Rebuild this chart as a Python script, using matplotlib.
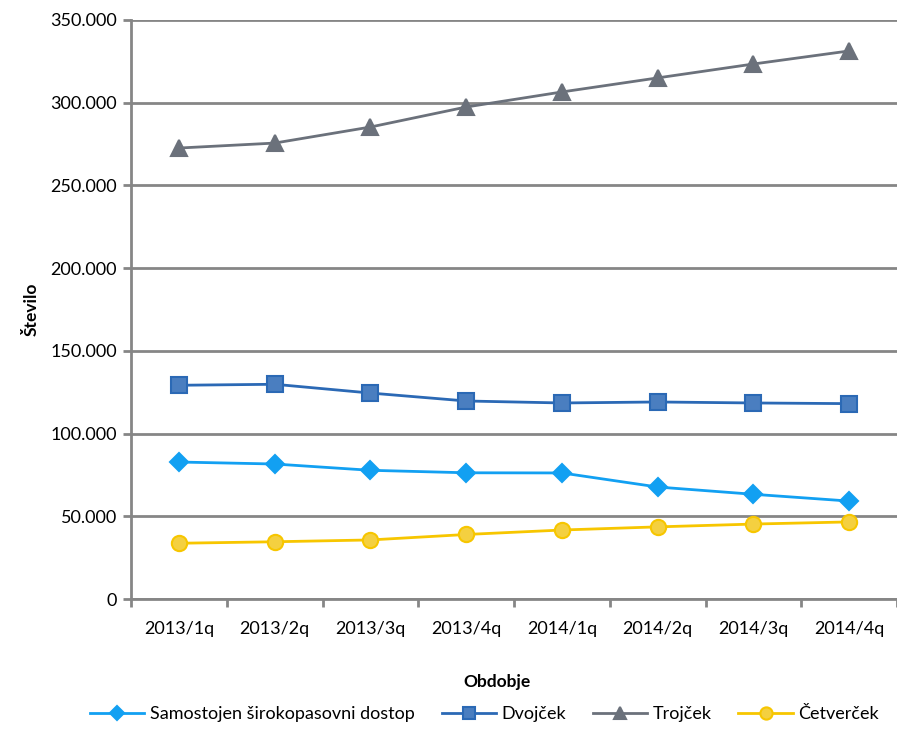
import matplotlib.pyplot as plt
from matplotlib.ticker import FuncFormatter, FixedLocator

plt.rcParams['font.family'] = ['Lato', 'DejaVu Sans']

# Podatki
obdobja = ["2013/1q", "2013/2q", "2013/3q", "2013/4q",
           "2014/1q", "2014/2q", "2014/3q", "2014/4q"]
samostojen = [82800, 81600, 77800, 76300, 76200, 67700, 63300, 59200]
dvojcek = [129200, 129800, 124500, 119700, 118500, 119100, 118500, 118100]
trojcek = [272600, 275600, 285300, 297400, 306500, 315000, 323400, 331300]
cetvercek = [33700, 34600, 35700, 39000, 41700, 43600, 45300, 46600]

serije = [
    ("Samostojen širokopasovni dostop", samostojen, "#12A0F2", "#12A0F2", "D", 9),
    ("Dvojček", dvojcek, "#2B69B5", "#4A7EC0", "s", 11),
    ("Trojček", trojcek, "#6B717B", "#6B717B", "^", 11),
    ("Četverček", cetvercek, "#F7C600", "#F4D040", "o", 11),
]

fig = plt.figure(figsize=(8.97, 7.36), dpi=100)
ax = fig.add_axes([131 / 897, 137 / 736, 766 / 897, 579 / 736])

x = list(range(len(obdobja)))
for ime, vrednosti, barva, polnilo, marker, ms in serije:
    ax.plot(x, vrednosti, color=barva, linewidth=2, marker=marker,
            markersize=ms, markerfacecolor=polnilo, markeredgecolor=barva,
            markeredgewidth=1.5, label=ime, zorder=3)

ax.set_xlim(-0.5, len(obdobja) - 0.5)
ax.set_ylim(0, 350000)
ax.set_yticks(range(0, 350001, 50000))
ax.yaxis.set_major_formatter(FuncFormatter(lambda v, p: f"{int(v):,}".replace(",", ".")))
ax.set_xticks(x)
ax.set_xticklabels(obdobja)
ax.xaxis.set_minor_locator(FixedLocator([i - 0.5 for i in range(len(obdobja) + 1)]))
ax.tick_params(axis='x', which='major', length=0, pad=16, labelsize=13)
ax.tick_params(axis='x', which='minor', length=6, width=2, color="#868686")
ax.tick_params(axis='y', length=6, width=2, color="#868686", labelsize=13, pad=4)

ax.grid(axis='y', color="#868686", linewidth=2)
ax.set_axisbelow(True)
for s in ["top", "right"]:
    ax.spines[s].set_visible(False)
for s in ["left", "bottom"]:
    ax.spines[s].set_color("#868686")
    ax.spines[s].set_linewidth(2)

ax.set_xlabel("Obdobje", fontweight="bold", fontsize=12.5, labelpad=28)
ax.xaxis.set_label_coords(0.478, -0.13)
ax.set_ylabel("Število", fontweight="bold", fontsize=12.5, labelpad=8)

fig.legend(loc="lower center", bbox_to_anchor=(0.54, -0.003), ncol=4, frameon=False,
           fontsize=13, handlelength=3, columnspacing=1.5, handletextpad=0.3,
           markerscale=0.8)

fig.savefig("out.png", dpi=100)
